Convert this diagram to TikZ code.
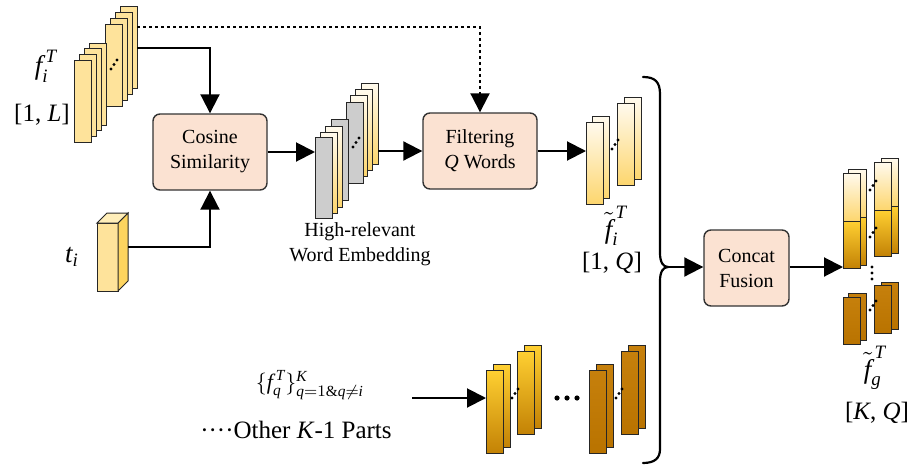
\documentclass[tikz,border=0pt]{standalone}
\usepackage{amsmath}
\usepackage{fontspec}
\setmainfont{Liberation Serif}
\usetikzlibrary{arrows.meta,calc}
\definecolor{slabY}{RGB}{254,227,155}
\definecolor{slabYside}{RGB}{253,212,95}
\definecolor{slabYtop}{RGB}{255,238,185}
\definecolor{grayS}{RGB}{205,205,205}
\definecolor{creamT}{RGB}{255,250,238}
\definecolor{creamB}{RGB}{253,214,110}
\definecolor{goldT}{RGB}{255,208,50}
\definecolor{goldB}{RGB}{195,130,5}
\definecolor{darkT}{RGB}{198,128,12}
\definecolor{darkM}{RGB}{235,165,28}
\definecolor{darkB}{RGB}{185,115,0}
\definecolor{boxfill}{RGB}{251,226,210}
\newcommand\slabbox[5]{\draw[slabline,#5] (#1,#2) rectangle ++(#3,#4);}
\newcommand\tridots[2]{\fill (#1,#2) circle[radius=0.85pt] ($(#1,#2)+(3,-4.5)$) circle[radius=0.85pt] ($(#1,#2)+(6,-9)$) circle[radius=0.85pt];}
\tikzset{
  slabline/.style={draw=black!85, line width=0.5pt},
  yslab/.style={fill=slabY},
  gslab/.style={fill=grayS},
  cslab/.style={top color=creamT, bottom color=creamB},
  goldslab/.style={top color=goldT, bottom color=goldB},
  darkslab/.style={top color=darkT, middle color=darkM, bottom color=darkB},
  procbox/.style={draw=black!80, line width=0.7pt, fill=boxfill, rounded corners=3.5pt,
    minimum width=57pt, minimum height=38pt, align=center, inner sep=0pt,
    font=\fontsize{10}{12.5}\selectfont},
  conn/.style={line width=1pt, -{Triangle[length=9.5pt,width=9.5pt]}},
  dashconn/.style={conn, dash pattern=on 1.6pt off 1.4pt},
  biglbl/.style={font=\fontsize{13.5}{16}\selectfont, inner sep=0pt},
  dimlbl/.style={font=\fontsize{12.5}{15}\selectfont, inner sep=0pt},
  txtlbl/.style={font=\fontsize{10}{12.5}\selectfont, align=center, inner sep=0pt}
}
\begin{document}
\begin{tikzpicture}[x=0.5pt,y=-0.5pt]
\useasboundingbox (0,0) rectangle (910,471);

% ---- f_i^T stack
\slabbox{120}{6}{17}{82}{yslab}
\slabbox{115}{12}{17}{82}{yslab}
\slabbox{110}{18}{17}{82}{yslab}
\slabbox{105}{24}{17}{82}{yslab}
\slabbox{89}{43}{17}{82}{yslab}
\slabbox{84}{48}{17}{82}{yslab}
\slabbox{79}{54}{17}{82}{yslab}
\slabbox{74}{60}{17}{82}{yslab}
\tridots{111}{69}
\coordinate (fTop) at (137,27);
\coordinate (fMid) at (137,48);
\node[biglbl] (fi) at (46,66) {$\textit{f}_{\textit{i}}^{\,\textit{T}}$};
\node[dimlbl] (fiDim) at (42,115) {[1, \textit{L}]};

% ---- t_i block
\draw[slabline, fill=slabY] (97,223) rectangle (118,291);
\draw[slabline, fill=slabYside] (118,223) -- (128,213) -- (128,281) -- (118,291) -- cycle;
\draw[slabline, fill=slabYtop] (97,223) -- (107,213) -- (128,213) -- (118,223) -- cycle;
\coordinate (tR) at (128,247);
\node[biglbl] (ti) at (72,257) {$\textit{t}_{\textit{i}}$};

% ---- process boxes
\node[procbox] (cos) at (210,152) {Cosine\\Similarity};
\node[procbox] (filt) at (480,151) {Filtering\\\textit{Q} Words};
\node[procbox, minimum width=42.5pt] (cat) at (746.5,268) {Concat\\Fusion};

% ---- high-relevant stack
\slabbox{361}{83}{17}{81}{cslab}
\slabbox{355}{89}{17}{81}{cslab}
\slabbox{350}{95}{17}{81}{cslab}
\slabbox{346}{102}{17}{81}{gslab}
\slabbox{331}{119}{17}{81}{gslab}
\slabbox{325}{126}{17}{81}{cslab}
\slabbox{320}{132}{17}{81}{cslab}
\slabbox{315}{137}{17}{81}{gslab}
\tridots{353}{147}
\coordinate (hrL) at (315,152);
\coordinate (hrR) at (378,151);
\node[txtlbl] (hrlbl) at (360,244) {High-relevant\\Word Embedding};

% ---- f~_i stack
\slabbox{624}{97}{17}{82}{cslab}
\slabbox{617}{103}{17}{82}{cslab}
\slabbox{592}{116}{17}{82}{cslab}
\slabbox{586}{122}{17}{82}{cslab}
\tridots{612}{149}
\coordinate (ftL) at (586,151);
\node[biglbl] (fti) at (616,226) {$\tilde{\textit{f}}_{\textit{i}}^{\,\textit{T}}$};
\node[dimlbl] (ftiDim) at (612,263) {[1, \textit{Q}]};

% ---- other parts
\slabbox{493}{364}{17}{83}{goldslab}
\slabbox{486}{370}{17}{83}{goldslab}
\slabbox{524}{345}{17}{83}{goldslab}
\slabbox{517}{351}{17}{83}{goldslab}
\tridots{512}{398}
\fill (557,398) circle[radius=1.3pt] (567,398) circle[radius=1.3pt] (577,398) circle[radius=1.3pt];
\slabbox{596}{364}{17}{83}{darkslab}
\slabbox{589}{370}{17}{83}{darkslab}
\slabbox{628}{345}{17}{83}{darkslab}
\slabbox{621}{351}{17}{83}{darkslab}
\tridots{616}{398}
\coordinate (opL) at (486,398);
\coordinate (opS) at (412,398);
\node[font=\fontsize{11}{13}\selectfont, inner sep=0pt] (fq) at (310,385)
  {$\{\textit{f}_{\textit{q}}^{\,\textit{T}}\}_{\textit{q}=1\&\textit{q}\neq\textit{i}}^{\textit{K}}$};
\node[dimlbl, anchor=east] (other) at (392,430) {····Other \textit{K}-1 Parts};

% ---- brace
\draw[line width=1.1pt, line cap=round] (643,77) .. controls (655,77) and (660,82) .. (660,94)
  -- (660,253) .. controls (660,262) and (663,267) .. (668,267)
  .. controls (663,267) and (660,272) .. (660,281)
  -- (660,449) .. controls (660,458) and (655,463) .. (643,463);
\coordinate (brTip) at (668,267);

% ---- fused stack
\slabbox{848}{169}{18}{48}{cslab}
\slabbox{848}{217}{18}{48}{goldslab}
\slabbox{843}{173}{17}{48}{cslab}
\slabbox{843}{221}{17}{47}{goldslab}
\slabbox{881}{158}{17}{48}{cslab}
\slabbox{881}{206}{17}{47}{goldslab}
\slabbox{874}{162}{17}{48}{cslab}
\slabbox{874}{210}{17}{46}{goldslab}
\tridots{870}{190}
\tridots{870}{237}
\fill (872,267) circle[radius=0.85pt] (872,273) circle[radius=0.85pt] (872,279) circle[radius=0.85pt];
\slabbox{848}{293}{18}{47}{darkslab}
\slabbox{843}{297}{17}{47}{darkslab}
\slabbox{881}{282}{17}{47}{darkslab}
\slabbox{874}{285}{17}{48}{darkslab}
\tridots{870}{310}
\coordinate (rsL) at (843,267);
\node[biglbl] (ftg) at (875,368) {$\tilde{\textit{f}}_{\textit{g}}^{\,\textit{T}}$};
\node[dimlbl] (ftgDim) at (877,413) {[\textit{K}, \textit{Q}]};

% ---- connectors
\draw[conn] (fMid) -| (cos.north);
\draw[dashconn] (fTop) -| (filt.north);
\draw[conn] (tR) -| (cos.south);
\draw[conn] (cos.east) -- (cos.east -| hrL);
\draw[conn] (hrR) -- (filt.west |- hrR);
\draw[conn] (filt.east) -- (filt.east -| ftL);
\draw[conn] (opS) -- (opL);
\draw[conn] (brTip) -- (cat.west |- brTip);
\draw[conn] (cat.east |- rsL) -- (rsL);
\end{tikzpicture}
\end{document}
